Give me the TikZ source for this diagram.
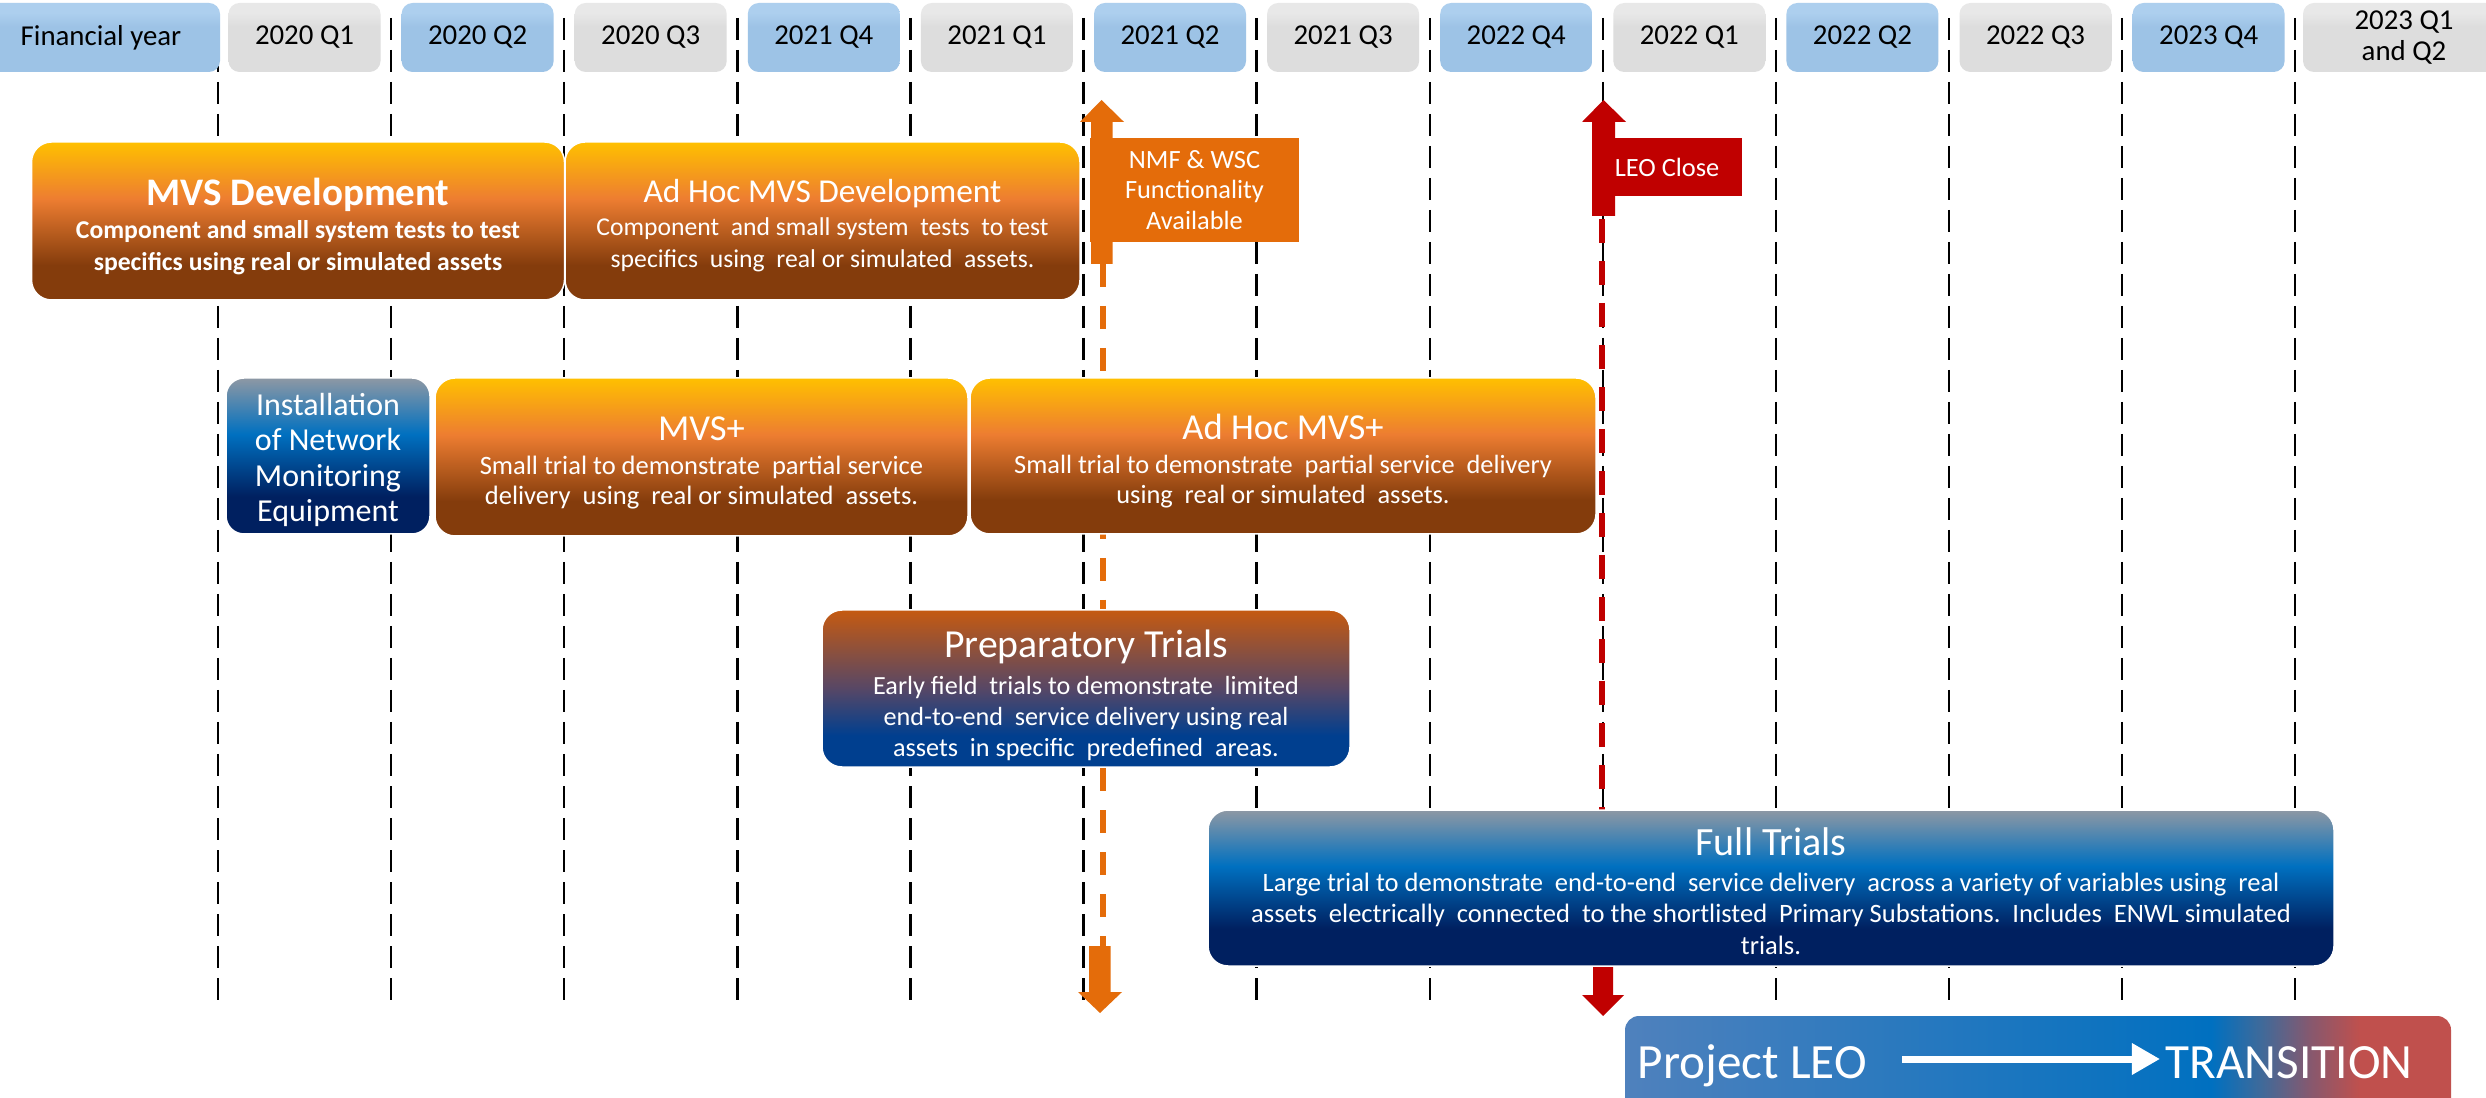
\documentclass[tikz,border=0pt]{standalone}
\usepackage{fontspec}
\setmainfont{Carlito}
\usetikzlibrary{arrows.meta}
\newdimen\pxu \pxu=0.01cm
\newcommand{\fsz}[2]{\fontsize{#1}{#2}\selectfont}
\definecolor{c-hblue}{HTML}{9DC3E6}
\definecolor{c-hbluetop}{HTML}{ADCFEE}
\definecolor{c-hgray}{HTML}{DDDDDD}
\definecolor{c-hgraytop}{HTML}{E8E8E8}
\definecolor{c-oyellow}{HTML}{FFC000}
\definecolor{c-oorange}{HTML}{ED7D31}
\definecolor{c-obrown}{HTML}{843C0C}
\definecolor{c-bgray}{HTML}{8E98A4}
\definecolor{c-bblue}{HTML}{0070C0}
\definecolor{c-bnavy}{HTML}{002060}
\definecolor{c-pbrown}{HTML}{C55A11}
\definecolor{c-pmid}{HTML}{574766}
\definecolor{c-pnavy}{HTML}{003F8F}
\definecolor{c-flagorange}{HTML}{E46C0A}
\definecolor{c-flagred}{HTML}{C00000}
\definecolor{c-lblue}{HTML}{4F81BD}
\definecolor{c-lmid1}{HTML}{3F6A9A}
\definecolor{c-lmid2}{HTML}{87586E}
\definecolor{c-lred}{HTML}{C0504D}
\pgfdeclareverticalshading{hbluegrad}{100bp}{color(0bp)=(c-hblue); color(25bp)=(c-hblue); color(58bp)=(c-hblue); color(68bp)=(c-hbluetop); color(100bp)=(c-hbluetop)}
\pgfdeclareverticalshading{hgraygrad}{100bp}{color(0bp)=(c-hgray); color(25bp)=(c-hgray); color(58bp)=(c-hgray); color(68bp)=(c-hgraytop); color(100bp)=(c-hgraytop)}
\pgfdeclareverticalshading{orangegrad}{100bp}{color(0bp)=(c-obrown); color(36bp)=(c-obrown); color(57bp)=(c-oorange); color(75bp)=(c-oyellow); color(100bp)=(c-oyellow)}
\pgfdeclareverticalshading{bluegrad}{100bp}{color(0bp)=(c-bnavy); color(37bp)=(c-bnavy); color(57bp)=(c-bblue); color(75bp)=(c-bgray); color(100bp)=(c-bgray)}
\pgfdeclareverticalshading{prepgrad}{100bp}{color(0bp)=(c-pnavy); color(35bp)=(c-pnavy); color(50bp)=(c-pmid); color(75bp)=(c-pbrown); color(100bp)=(c-pbrown)}
\pgfdeclarehorizontalshading{leograd}{100bp}{color(0bp)=(c-lblue); color(25bp)=(c-lblue); color(60.5bp)=(c-bblue); color(63.5bp)=(c-lmid1); color(66.5bp)=(c-lmid2); color(69.5bp)=(c-lred); color(100bp)=(c-lred)}
\begin{document}
\begin{tikzpicture}[x=0.01cm,y=-0.01cm,
  gridline/.style={draw=black, line width=2.4\pxu, dash pattern=on 22\pxu off 10\pxu},
  hdr/.style={rounded corners=11\pxu, inner sep=0pt, minimum height=69\pxu, minimum width=152\pxu, font=\fsz{8.2}{9}, text=black, align=center},
  hdrblue/.style={hdr, shading=hbluegrad},
  hdrgray/.style={hdr, shading=hgraygrad},
  phase/.style={rounded corners=20\pxu, draw=white, line width=1.5\pxu, inner sep=0pt},
  orangebox/.style={phase, shading=orangegrad},
  bluebox/.style={phase, shading=bluegrad},
  prepbox/.style={phase, shading=prepgrad},
  boxtext/.style={inner sep=0pt, text=white, align=center},
  flagtext/.style={inner sep=0pt, text=white, align=center, font=\fsz{7.5}{8.7}},
  odash/.style={draw=c-flagorange, line width=6\pxu, dash pattern=on 23\pxu off 19\pxu},
  rdash/.style={draw=c-flagred, line width=5.5\pxu, dash pattern=on 24\pxu off 18\pxu},
]
\fill[white] (0,0) rectangle (2486,1098);
\useasboundingbox (0,0) rectangle (2486,1098);
% grid lines
\foreach \k in {0,...,12} {\draw[gridline] ({218+173.1*\k},18) -- ({218+173.1*\k},1005);}
% header
\node[hdrblue, minimum width=238\pxu] (fy) at (101,37.5) {Financial year};
\foreach \lab [count=\k] in {2020 Q1,2020 Q2,2020 Q3,2021 Q4,2021 Q1,2021 Q2,2021 Q3,2022 Q4,2022 Q1,2022 Q2,2022 Q3,2023 Q4} {
  \pgfmathsetmacro\cx{304.5+173.1*(\k-1)}
  \ifodd\k
    \node[hdrgray] (q\k) at (\cx,37.5) {\lab};
  \else
    \node[hdrblue] (q\k) at (\cx,37.5) {\lab};
  \fi
}
\node[hdrgray, minimum width=202\pxu] (q13) at (2404,37.5) {2023 Q1\\and Q2};
% milestone dashed lines
\coordinate (oa) at (1102.5,264);
\coordinate (ob) at (1102.5,946);
\draw[odash] (oa) -- (ob);
\coordinate (ra) at (1602,219);
\coordinate (rb) at (1602,966);
\draw[rdash] (ra) -- (rb);
% bottom arrows
\fill[c-flagorange] (1089,946) -- (1110.5,946) -- (1110.5,992) -- (1122,992) -- (1100,1013) -- (1078,992) -- (1089,992) -- cycle;
\fill[c-flagred] (1593,955) -- (1613,955) -- (1613,995) -- (1624,995) -- (1603,1016) -- (1582,995) -- (1593,995) -- cycle;
% phase boxes
\node[orangebox, minimum width=533\pxu, minimum height=158\pxu] (mvs) at (298,221) {};
\node[boxtext, font=\fsz{7.3}{9.1}\bfseries, yshift=-5.5\pxu] (mvs-t) at (mvs.center)
  {{\fsz{11.1}{9.1}MVS Development}\\[0.4pt]Component and small system tests to test\\specifics using real or simulated assets};
\node[orangebox, minimum width=515\pxu, minimum height=158\pxu] (adhocmvs) at (822.5,221) {};
\node[boxtext, font=\fsz{7.3}{9.1}, yshift=-5\pxu] (adhocmvs-t) at (adhocmvs.center)
  {{\fsz{9.5}{9.1}Ad Hoc MVS Development}\\[0.3pt]Component\ \ and small system\ \ tests\ \ to test\\specifics\ \ using\ \ real or simulated\ \ assets.};
\node[bluebox, rounded corners=18\pxu, minimum width=204\pxu, minimum height=156\pxu] (inst) at (328,456) {};
\node[boxtext, font=\fsz{9.1}{10}, yshift=-4\pxu] (inst-t) at (inst.center)
  {Installation\\of Network\\Monitoring\\Equipment};
\node[orangebox, minimum width=533\pxu, minimum height=158\pxu] (mvsplus) at (701.5,457) {};
\node[boxtext, font=\fsz{7.55}{8.5}, yshift=-5.5\pxu] (mvsplus-t) at (mvsplus.center)
  {{\fsz{10.4}{8.5}MVS+}\\[1.2pt]Small trial to demonstrate\ \ partial service\\delivery\ \ using\ \ real or simulated\ \ assets.};
\node[orangebox, minimum width=626\pxu, minimum height=156\pxu] (adhocplus) at (1283,456) {};
\node[boxtext, font=\fsz{7.5}{8.5}, yshift=-5\pxu] (adhocplus-t) at (adhocplus.center)
  {{\fsz{10.4}{8.5}Ad Hoc MVS+}\\[1.2pt]Small trial to demonstrate\ \ partial service\ \ delivery\\using\ \ real or simulated\ \ assets.};
\node[prepbox, minimum width=528\pxu, minimum height=157\pxu] (prep) at (1086,688.5) {};
\node[boxtext, font=\fsz{7.45}{8.9}, yshift=-7\pxu] (prep-t) at (prep.center)
  {{\fsz{11.3}{8.9}Preparatory Trials}\\[1.6pt]Early field\ \ trials to demonstrate\ \ limited\\end-to-end\ \ service delivery using real\\assets\ \ in specific\ \ predefined\ \ areas.};
\node[bluebox, minimum width=1126\pxu, minimum height=156\pxu] (full) at (1771,888) {};
\node[boxtext, font=\fsz{7.55}{9}, yshift=-3\pxu] (full-t) at (full.center)
  {{\fsz{11.4}{9}Full Trials}\\[1.2pt]Large trial to demonstrate\ \ end-to-end\ \ service delivery\ \ across a variety of variables using\ \ real\\assets\ \ electrically\ \ connected\ \ to the shortlisted\ \ Primary Substations.\ \ Includes\ \ ENWL simulated\\trials.};
% top flags
\fill[c-flagorange] (1091,264) -- (1091,122) -- (1080,122) -- (1101.5,100) -- (1124,122) -- (1112.5,122) -- (1112.5,264) -- cycle;
\node[flagtext, fill=c-flagorange, minimum width=209\pxu, minimum height=104\pxu] (nmf) at (1194.5,190) {NMF \& WSC\\Functionality\\Available};
\fill[c-flagred] (1592,216) -- (1592,122) -- (1582,122) -- (1603.5,100) -- (1626,122) -- (1615,122) -- (1615,216) -- cycle;
\node[flagtext, fill=c-flagred, minimum width=150\pxu, minimum height=58\pxu] (leoclose) at (1667,167) {LEO Close};
% Project LEO transition bar
\node[rounded corners=14\pxu, shading=leograd, minimum width=826\pxu, minimum height=100\pxu, inner sep=0pt] (leo) at (2038,1066) {};
\node[anchor=base west, inner sep=0pt, text=white, font=\fsz{14}{16}] (proj) at (1637,1078) {Project LEO};
\node[anchor=base west, inner sep=0pt, text=white, font=\fsz{14}{16}] (trans) at (2165,1078) {TRANSITION};
\coordinate (arrS) at (1902,1059);
\coordinate (arrE) at (2160,1059);
\draw[white, line width=7\pxu, -{Triangle[length=8pt, width=8.5pt]}] (arrS) -- (arrE);
\end{tikzpicture}
\end{document}
